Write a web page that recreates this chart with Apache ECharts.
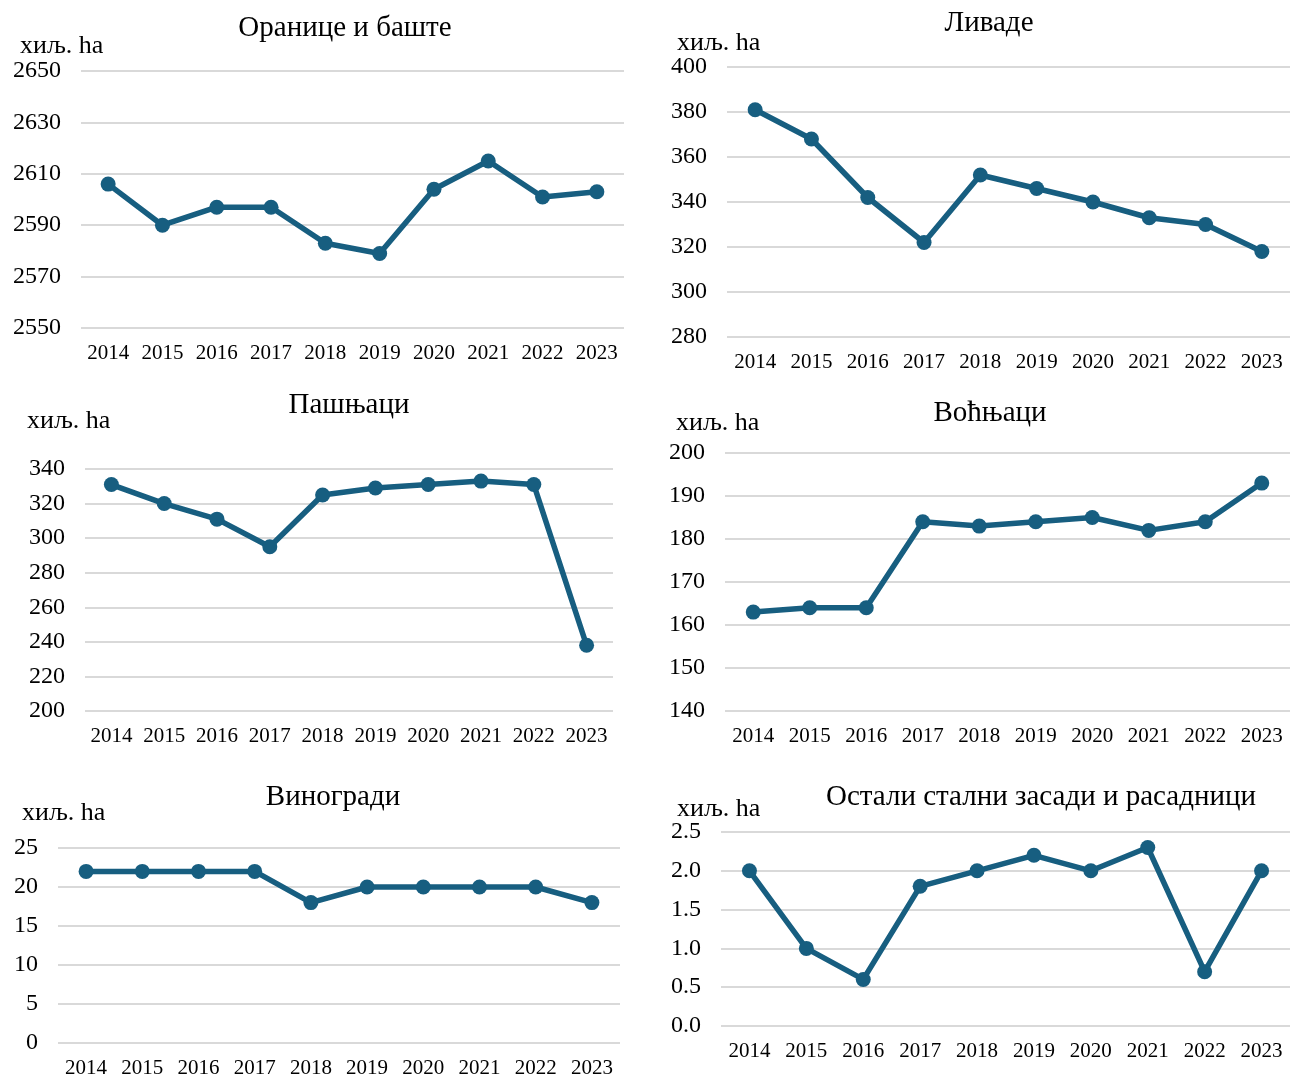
<!DOCTYPE html>
<html>
<head>
<meta charset="utf-8">
<title>Пољопривредно земљиште</title>
<script src="https://cdn.jsdelivr.net/npm/echarts@6/dist/echarts.min.js"></script>
<style>
    html, body { margin: 0; padding: 0; background: #fff; }
    #chart { width: 1290px; height: 1079px; }
</style>
</head>
<body>
<div id="chart"></div>
<script>
// 数据
var years = ['2014', '2015', '2016', '2017', '2018', '2019', '2020', '2021', '2022', '2023'];
var titles = ['Оранице и баште', 'Ливаде', 'Пашњаци', 'Воћњаци', 'Виногради', 'Остали стални засади и расадници'];
var unitLabel = 'хиљ. ha';

var oranice = [2606, 2590, 2597, 2597, 2583, 2579, 2604, 2615, 2601, 2603];
var livade = [381, 368, 342, 322, 352, 346, 340, 333, 330, 318];
var pasnjaci = [331, 320, 311, 295, 325, 329, 331, 333, 331, 238];
var vocnjaci = [163, 164, 164, 184, 183, 184, 185, 182, 184, 193];
var vinogradi = [22, 22, 22, 22, 18, 20, 20, 20, 20, 18];
var ostali = [2.0, 1.0, 0.6, 1.8, 2.0, 2.2, 2.0, 2.3, 0.7, 2.0];

// y轴范围 [min, max, interval]
var yMin = [2550, 280, 200, 140, 0, 0];
var yMax = [2650, 400, 340, 200, 25, 2.5];
var yStep = [20, 20, 20, 10, 5, 0.5];

(function () {
    var FONT = "'Liberation Serif', 'Times New Roman', serif";
    var LINE = '#175e80';
    var seriesData = [oranice, livade, pasnjaci, vocnjaci, vinogradi, ostali];

    // 每个小图的位置 (像素)
    var boxes = [
        { left: 81, top: 71, width: 543, height: 257, title: [345, 28], unit: [20, 46] },
        { left: 727, top: 67, width: 568, height: 270, title: [989, 23], unit: [677, 43] },
        { left: 85, top: 469, width: 528, height: 242, title: [349, 405], unit: [27, 421] },
        { left: 725, top: 453, width: 569, height: 258, title: [990, 413], unit: [676, 423] },
        { left: 58, top: 848, width: 562, height: 197, title: [333, 797], unit: [22, 813] },
        { left: 721, top: 832, width: 573, height: 194, title: [1041, 797], unit: [677, 809] }
    ];

    var grid = [], xAxis = [], yAxis = [], series = [], graphic = [];
    boxes.forEach(function (b, i) {
        grid.push({ left: b.left, top: b.top, width: b.width, height: b.height });
        xAxis.push({
            type: 'category',
            gridIndex: i,
            data: years,
            boundaryGap: true,
            axisLine: { show: false },
            axisTick: { show: false },
            axisLabel: { color: '#000', fontFamily: FONT, fontSize: 21, margin: 15, interval: 0 }
        });
        yAxis.push({
            type: 'value',
            gridIndex: i,
            min: yMin[i],
            max: yMax[i],
            interval: yStep[i],
            axisLine: { show: false },
            axisTick: { show: false },
            axisLabel: {
                color: '#000',
                fontFamily: FONT,
                fontSize: 24,
                margin: 20,
                formatter: function (v) {
                    // 最后一个图保留一位小数, 其它不要千分位
                    return i === 5 ? v.toFixed(1) : String(v);
                }
            },
            splitLine: { lineStyle: { color: '#d9d9d9', width: 2 } }
        });
        series.push({
            type: 'line',
            xAxisIndex: i,
            yAxisIndex: i,
            data: seriesData[i],
            symbol: 'circle',
            symbolSize: 15,
            lineStyle: { color: LINE, width: 5.5 },
            itemStyle: { color: LINE },
            animation: false
        });
        // 标题
        graphic.push({
            type: 'text',
            x: b.title[0],
            y: b.title[1],
            style: {
                text: titles[i],
                fill: '#000',
                font: '29px ' + FONT,
                textAlign: 'center',
                textVerticalAlign: 'middle'
            }
        });
        // 单位
        graphic.push({
            type: 'text',
            x: b.unit[0],
            y: b.unit[1],
            style: {
                text: unitLabel,
                fill: '#000',
                font: '26px ' + FONT,
                textAlign: 'left',
                textVerticalAlign: 'middle'
            }
        });
    });

    var myChart = echarts.init(document.getElementById('chart'));
    myChart.setOption({
        animation: false,
        grid: grid,
        xAxis: xAxis,
        yAxis: yAxis,
        series: series,
        graphic: graphic
    });
})();
</script>
</body>
</html>
